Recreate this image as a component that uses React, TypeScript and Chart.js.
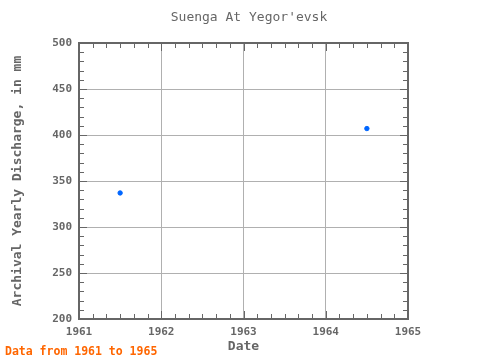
import React, { useEffect, useRef } from "react";
import { Chart, registerables } from "chart.js";

Chart.register(...registerables);

const chartTitle = "Suenga At Yegor'evsk";
const yAxisTitle = "Archival Yearly Discharge, in mm";
const xAxisTitle = "Date";
const footerText = "Data from 1961 to 1965";
const years = [1961.5, 1964.5];
const discharge = [337, 407];
const xMin = 1961;
const xMax = 1965;
const yMin = 200;
const yMax = 500;

const MONO = "'DejaVu Sans Mono', monospace";
const TEXT = "#666666";

const frame = {
  id: "frame",
  beforeDatasetsDraw(chart: any) {
    const { ctx, chartArea: a, scales } = chart;
    const x = scales.x;
    const y = scales.y;
    ctx.save();
    ctx.strokeStyle = "#666666";
    ctx.lineWidth = 1;
    ctx.beginPath();
    for (let i = 0; i <= (xMax - xMin) * 6; i++) {
      const v = xMin + i / 6;
      const px = Math.round(x.getPixelForValue(v)) + 0.5;
      const len = i % 6 === 0 ? 8 : 5;
      ctx.moveTo(px, a.bottom);
      ctx.lineTo(px, a.bottom - len);
      ctx.moveTo(px, a.top);
      ctx.lineTo(px, a.top + len);
    }
    for (let v = yMin; v <= yMax; v += 10) {
      const py = Math.round(y.getPixelForValue(v)) + 0.5;
      const len = v % 50 === 0 ? 8 : 5;
      ctx.moveTo(a.left, py);
      ctx.lineTo(a.left + len, py);
      ctx.moveTo(a.right, py);
      ctx.lineTo(a.right - len, py);
    }
    ctx.stroke();
    ctx.lineWidth = 2;
    ctx.strokeRect(a.left, a.top, a.right - a.left, a.bottom - a.top);
    ctx.restore();
  },
  afterDraw(chart: any) {
    const { ctx } = chart;
    ctx.save();
    ctx.textBaseline = "middle";
    ctx.fillStyle = TEXT;
    ctx.font = `13px ${MONO}`;
    ctx.textAlign = "center";
    ctx.fillText(chartTitle, 249, 18);
    ctx.fillStyle = "#ff6600";
    ctx.font = `bold 11.5px ${MONO}`;
    ctx.textAlign = "left";
    ctx.fillText(footerText, 5, 352);
    ctx.restore();
  },
};

export default function App() {
  const ref = useRef<HTMLCanvasElement | null>(null);
  useEffect(() => {
    document.body.style.margin = "0";
    const chart = new Chart(ref.current as HTMLCanvasElement, {
      type: "scatter",
      data: {
        datasets: [
          {
            data: years.map((yr, i) => ({ x: yr, y: discharge[i] })),
            backgroundColor: "#0066ff",
            borderColor: "#0066ff",
            pointRadius: 2.2,
            pointHoverRadius: 2.2,
            showLine: false,
          },
        ],
      },
      options: {
        responsive: false,
        animation: false,
        layout: { padding: { left: 0, right: 72, top: 43, bottom: 0 } },
        plugins: {
          legend: { display: false },
          tooltip: { enabled: false },
          title: { display: false },
        },
        scales: {
          x: {
            type: "linear",
            min: xMin,
            max: xMax,
            afterFit: (s: any) => {
              s.height = 41;
            },
            ticks: {
              stepSize: 1,
              color: TEXT,
              font: { family: MONO, size: 11, weight: "bold" },
              padding: 7,
              maxRotation: 0,
              callback: (v: any) => String(v),
            },
            grid: { color: "#b0b0b0", drawTicks: false },
            border: { display: false },
            title: {
              display: true,
              text: xAxisTitle,
              color: TEXT,
              font: { family: MONO, size: 13, weight: "bold" },
              padding: { top: 0, bottom: 6 },
            },
          },
          y: {
            min: yMin,
            max: yMax,
            afterFit: (s: any) => {
              s.width = 79;
            },
            ticks: {
              stepSize: 50,
              color: TEXT,
              font: { family: MONO, size: 11, weight: "bold" },
              padding: 7,
            },
            grid: { color: "#b0b0b0", drawTicks: false },
            border: { display: false },
            title: {
              display: true,
              text: yAxisTitle,
              color: TEXT,
              font: { family: MONO, size: 13, weight: "bold" },
              padding: { top: 10, bottom: 0 },
            },
          },
        },
      },
      plugins: [frame],
    } as any);
    return () => chart.destroy();
  }, []);
  return (
    <div style={{ position: "absolute", left: 0, top: 0, width: 480, height: 360 }}>
      <canvas ref={ref} width={480} height={360} />
    </div>
  );
}
